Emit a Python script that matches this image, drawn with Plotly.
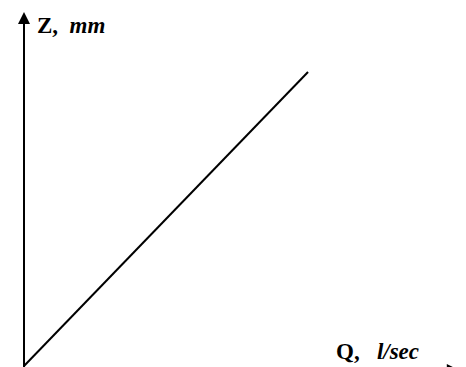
import plotly.graph_objects as go

# discharge Q vs stage Z (schematic rating line)
Q = [0, 10]
Z = [0, 10]

W, H = 466, 367
H_FIG = 374  # a little taller than the window so the Q-axis arrow sits just below the frame
FONT = "Liberation Serif"

fig = go.Figure()

fig.add_trace(go.Scatter(x=Q, y=Z, mode="lines",
                         line=dict(color="black", width=2),
                         hoverinfo="skip", showlegend=False))

# Z axis with arrow at top
fig.add_annotation(x=0, y=12.04, ax=0, ay=-0.2,
                   xref="x", yref="y", axref="x", ayref="y",
                   text="", showarrow=True, arrowhead=2,
                   arrowsize=1.2, arrowwidth=2, arrowcolor="black")

# Q axis arrow (mostly below the visible frame)
fig.add_annotation(x=15.31, y=-0.14, ax=10, ay=-0.14,
                   xref="x", yref="y", axref="x", ayref="y",
                   text="", showarrow=True, arrowhead=2,
                   arrowsize=1.2, arrowwidth=2, arrowcolor="black")

fig.add_annotation(x=35 / W, y=1 - 25.5 / H_FIG, xref="paper", yref="paper",
                   xanchor="left", yanchor="middle", showarrow=False,
                   text="<b>Z,  <i>mm</i></b>",
                   font=dict(family=FONT, size=23, color="black"))

fig.add_annotation(x=334 / W, y=1 - 351.5 / H_FIG, xref="paper", yref="paper",
                   xanchor="left", yanchor="middle", showarrow=False,
                   text="<b>Q,   <i>l/sec</i></b>",
                   font=dict(family=FONT, size=23, color="black"))

fig.update_xaxes(range=[-0.845, 15.563], visible=False)
fig.update_yaxes(range=[(366 - H_FIG) / 29.4, 366 / 29.4], visible=False)

fig.update_layout(width=W, height=H_FIG,
                  margin=dict(l=0, r=0, t=0, b=0),
                  paper_bgcolor="white", plot_bgcolor="white")

# drop the page's default 8px body margin so the figure fills the window
fig.write_html("out.html", config={"displayModeBar": False},
               post_script="document.body.style.margin='0';")
